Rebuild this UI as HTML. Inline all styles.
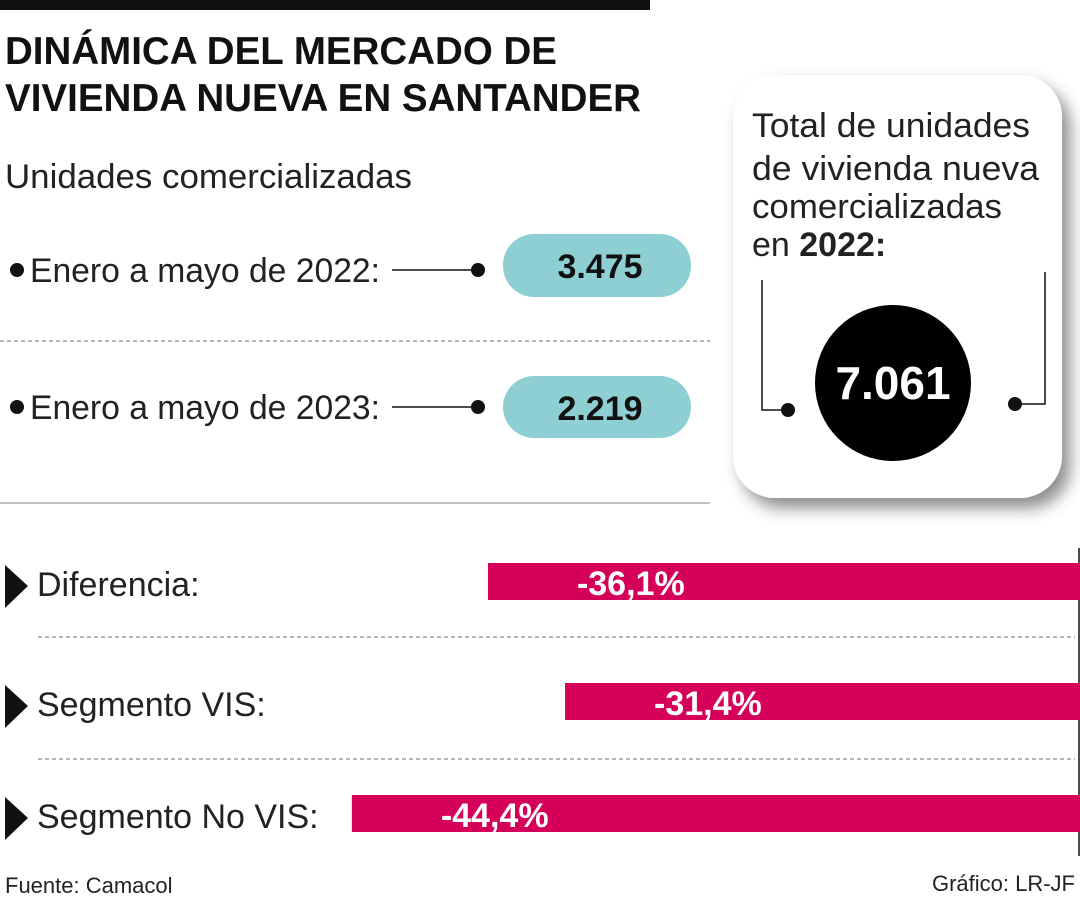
<!DOCTYPE html>
<html><head><meta charset="utf-8"><style>
html,body{margin:0;padding:0;background:#fff;}
svg{display:block;font-family:"Liberation Sans",sans-serif;}
</style></head><body>
<svg id="chart" width="1080" height="900" viewBox="0 0 1080 900">
<defs><filter id="sh" x="-20%" y="-20%" width="150%" height="150%"><feDropShadow dx="8" dy="10" stdDeviation="8" flood-color="#000" flood-opacity="0.45"/></filter></defs>
<rect x="0" y="0" width="650" height="10" fill="#111"/>
<text x="5" y="64" font-size="39" font-weight="bold" fill="#111" textLength="552" lengthAdjust="spacingAndGlyphs">DINÁMICA DEL MERCADO DE</text>
<text x="5" y="111" font-size="39" font-weight="bold" fill="#111" textLength="636" lengthAdjust="spacingAndGlyphs">VIVIENDA NUEVA EN SANTANDER</text>
<text x="5" y="188" font-size="34" fill="#222" textLength="407" lengthAdjust="spacingAndGlyphs">Unidades comercializadas</text>

<g>
<circle cx="17" cy="270" r="7" fill="#111"/>
<text x="30" y="282" font-size="34" fill="#222" textLength="350" lengthAdjust="spacingAndGlyphs">Enero a mayo de 2022:</text>
<line x1="392" y1="270" x2="478" y2="270" stroke="#111" stroke-width="1.5"/>
<circle cx="478" cy="270" r="7" fill="#111"/>
<rect x="503" y="234" width="188" height="63" rx="31" fill="#8dcfd3"/>
<text x="600" y="278" font-size="34" font-weight="bold" fill="#111" text-anchor="middle">3.475</text>
</g>
<line x1="0" y1="341" x2="710" y2="341" stroke="#888" stroke-width="1.2" stroke-dasharray="4,3"/>
<g>
<circle cx="17" cy="407" r="7" fill="#111"/>
<text x="30" y="419" font-size="34" fill="#222" textLength="350" lengthAdjust="spacingAndGlyphs">Enero a mayo de 2023:</text>
<line x1="392" y1="407" x2="478" y2="407" stroke="#111" stroke-width="1.5"/>
<circle cx="478" cy="407" r="7" fill="#111"/>
<rect x="503" y="376" width="188" height="62" rx="31" fill="#8dcfd3"/>
<text x="600" y="420" font-size="34" font-weight="bold" fill="#111" text-anchor="middle">2.219</text>
</g>
<line x1="0" y1="503" x2="710" y2="503" stroke="#999" stroke-width="1.2"/>

<g>
<rect x="733" y="75" width="329" height="423" rx="42" fill="#fff" filter="url(#sh)"/>
<text x="752" y="137" font-size="34" fill="#222" textLength="278" lengthAdjust="spacingAndGlyphs">Total de unidades</text>
<text x="752" y="180" font-size="34" fill="#222" textLength="287" lengthAdjust="spacingAndGlyphs">de vivienda nueva</text>
<text x="752" y="218" font-size="34" fill="#222" textLength="250" lengthAdjust="spacingAndGlyphs">comercializadas</text>
<text x="752" y="256" font-size="34" fill="#222">en <tspan font-weight="bold">2022:</tspan></text>
<polyline points="762,280 762,410 788,410" fill="none" stroke="#111" stroke-width="1.5"/>
<circle cx="788" cy="410" r="7" fill="#111"/>
<polyline points="1045,272 1045,404 1015,404" fill="none" stroke="#111" stroke-width="1.5"/>
<circle cx="1015" cy="404" r="7" fill="#111"/>
<circle cx="893" cy="383" r="78" fill="#000"/>
<text x="893" y="399" font-size="46" font-weight="bold" fill="#fff" text-anchor="middle">7.061</text>
</g>

<line x1="1079" y1="548" x2="1079" y2="856" stroke="#111" stroke-width="1.5"/>
<line x1="38" y1="637" x2="1075" y2="637" stroke="#888" stroke-width="1.2" stroke-dasharray="4,3"/>
<line x1="38" y1="759" x2="1075" y2="759" stroke="#888" stroke-width="1.2" stroke-dasharray="4,3"/>
<g id="bars"></g>
<text x="5" y="893" font-size="22" fill="#222">Fuente: Camacol</text>
<text x="1075" y="891" font-size="22" fill="#222" text-anchor="end">Gráfico: LR-JF</text>
</svg>
<script>
const categories = ["Diferencia:", "Segmento VIS:", "Segmento No VIS:"];
const values = [-36.1, -31.4, -44.4];
const valueLabels = ["-36,1%", "-31,4%", "-44,4%"];
const NS = "http://www.w3.org/2000/svg";
const zeroX = 1080, pxPer = 16.4;
const rowTop = [563, 683, 795];
function xScale(v){ return zeroX + v * pxPer; }
const g = document.getElementById("bars");
categories.forEach((c, i) => {
  const y = rowTop[i];
  const tri = document.createElementNS(NS, "polygon");
  tri.setAttribute("points", `5,${y+2} 28,${y+23} 5,${y+45}`);
  tri.setAttribute("fill", "#111");
  
  
  g.appendChild(tri);
  const t = document.createElementNS(NS, "text");
  t.setAttribute("x", 37); t.setAttribute("y", y + 33);
  t.setAttribute("font-size", "34"); t.setAttribute("fill", "#222");
  t.textContent = c;
  
  
  g.appendChild(t);
  const x0 = xScale(values[i]);
  const r = document.createElementNS(NS, "rect");
  r.setAttribute("x", x0); r.setAttribute("y", y);
  r.setAttribute("width", zeroX - x0); r.setAttribute("height", 37);
  r.setAttribute("fill", "#d5005a");
  
  
  g.appendChild(r);
  const vt = document.createElementNS(NS, "text");
  vt.setAttribute("x", x0 + 89); vt.setAttribute("y", y + 32);
  vt.setAttribute("font-size", "34"); vt.setAttribute("font-weight", "bold"); vt.setAttribute("fill", "#fff");
  vt.textContent = valueLabels[i];
  
  
  g.appendChild(vt);
});
</script>
</body></html>
